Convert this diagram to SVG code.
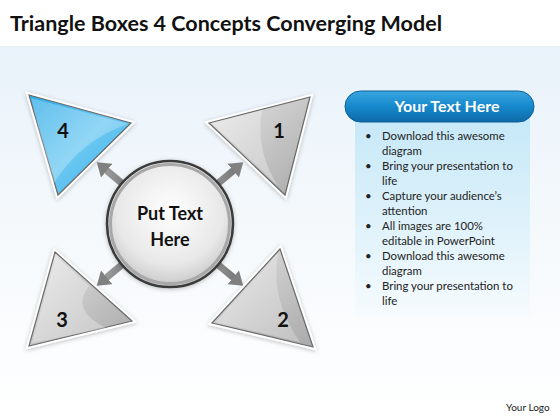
<svg xmlns="http://www.w3.org/2000/svg" width="560" height="420" viewBox="0 0 560 420">
<defs>
<style>
.title{font-family:Lato,"Liberation Sans",sans-serif;font-weight:bold;font-size:20px;fill:#111}
.num{font-family:Lato,"Liberation Sans",sans-serif;font-weight:bold;font-size:20px;fill:#111;text-anchor:middle}
.ctr{font-family:Lato,"Liberation Sans",sans-serif;font-weight:bold;font-size:18px;fill:#111;text-anchor:middle}
.hdr{font-family:Lato,"Liberation Sans",sans-serif;font-weight:bold;font-size:16px;fill:#fff;text-anchor:middle}
.bul{font-family:Lato,"Liberation Sans",sans-serif;font-size:11.4px;fill:#222}
.logo{font-family:Lato,"Liberation Sans",sans-serif;font-size:10px;fill:#222}
.tri{stroke:#6a6a6a;stroke-width:1.2;stroke-linejoin:miter}
.triw{fill:#fff;stroke:#fff;stroke-width:5;stroke-linejoin:miter}
.arr{stroke:url(#ga);stroke-width:7;fill:none;marker-end:url(#ah)}
</style>
<linearGradient id="bg" x1="0" y1="0" x2="0" y2="1">
<stop offset="0" stop-color="#e9f2fa"/><stop offset="0.5" stop-color="#f5f9fc"/><stop offset="1" stop-color="#ffffff"/>
</linearGradient>
<linearGradient id="gblue" x1="0" y1="0" x2="1" y2="1">
<stop offset="0" stop-color="#2aa9e6"/><stop offset="0.5" stop-color="#6cc8f2"/><stop offset="1" stop-color="#3cb2ea"/>
</linearGradient>
<linearGradient id="ggray" x1="0" y1="0" x2="1" y2="1">
<stop offset="0" stop-color="#e6e6e6"/><stop offset="0.55" stop-color="#c4c4c4"/><stop offset="1" stop-color="#a9a9a9"/>
</linearGradient>
<linearGradient id="ga" x1="0" y1="0" x2="1" y2="0">
<stop offset="0" stop-color="#9a9a9a"/><stop offset="1" stop-color="#7a7a7a"/>
</linearGradient>
<radialGradient id="gc" cx="0.5" cy="0.4" r="0.6">
<stop offset="0" stop-color="#ffffff"/><stop offset="0.7" stop-color="#e8e8e8"/><stop offset="1" stop-color="#c8c8c8"/>
</radialGradient>
<linearGradient id="gh" x1="0" y1="0" x2="0" y2="1">
<stop offset="0" stop-color="#3aa6e0"/><stop offset="0.5" stop-color="#1688cc"/><stop offset="1" stop-color="#0d6aa8"/>
</linearGradient>
<linearGradient id="gp" x1="0" y1="0" x2="0" y2="1">
<stop offset="0" stop-color="#c6e8f8"/><stop offset="0.6" stop-color="#e2f3fb"/><stop offset="1" stop-color="#f6fbfe"/>
</linearGradient>
<marker id="ah" markerUnits="userSpaceOnUse" markerWidth="16" markerHeight="18" refX="1" refY="9" orient="auto">
<path d="M0,0 L13,9 L0,18 z" fill="#808080"/>
</marker>
<filter id="sh" x="-20%" y="-20%" width="140%" height="140%">
<feDropShadow dx="0" dy="1" stdDeviation="2" flood-color="#000" flood-opacity="0.25"/>
</filter>
</defs>

<rect x="0" y="0" width="560" height="420" fill="#fff"/>
<rect x="0" y="46" width="560" height="374" fill="url(#bg)"/>

<text class="title" x="10" y="31" textLength="432" lengthAdjust="spacingAndGlyphs">Triangle Boxes 4 Concepts Converging Model</text>

<g id="connectors">
<line class="arr" x1="130" y1="190" x2="106" y2="170"/>
<line class="arr" x1="210" y1="190" x2="234" y2="170"/>
<line class="arr" x1="130" y1="258" x2="106" y2="278"/>
<line class="arr" x1="210" y1="258" x2="234" y2="278"/>
</g>

<g id="node4">
<polygon class="triw" points="29,95 131,123 58,195" filter="url(#sh)"/>
<polygon class="tri" points="29,95 131,123 58,195" fill="url(#gblue)"/>
<path d="M31,98 L128,124 Q80,140 52,186 Z" fill="#ffffff" opacity="0.25"/>
<text class="num" x="63" y="138">4</text>
</g>

<g id="node1">
<polygon class="triw" points="209,123 310,97 285,195" filter="url(#sh)"/>
<polygon class="tri" points="209,123 310,97 285,195" fill="url(#ggray)"/>
<path d="M212,123 L262,110 Q255,150 278,186 Z" fill="#ffffff" opacity="0.3"/>
<text class="num" x="279" y="138">1</text>
</g>

<g id="node3">
<polygon class="triw" points="55,252 132,321 29,346" filter="url(#sh)"/>
<polygon class="tri" points="55,252 132,321 29,346" fill="url(#ggray)"/>
<path d="M56,256 L89,286 Q70,310 106,328 L32,343 Z" fill="#ffffff" opacity="0.3"/>
<text class="num" x="62" y="327">3</text>
</g>

<g id="node2">
<polygon class="triw" points="280,249 313,347 212,323" filter="url(#sh)"/>
<polygon class="tri" points="280,249 313,347 212,323" fill="url(#ggray)"/>
<path d="M278,253 L216,322 L300,342 Q270,300 278,253 Z" fill="#ffffff" opacity="0.25"/>
<text class="num" x="283" y="327">2</text>
</g>

<g id="center">
<circle cx="170" cy="224" r="63" fill="url(#gc)" stroke="#3a3a3a" stroke-width="2.5" filter="url(#sh)"/>
<circle cx="170" cy="224" r="59.5" fill="none" stroke="#a8a8a8" stroke-width="3"/>
<text class="ctr" x="170" y="220">Put Text</text>
<text class="ctr" x="170" y="246">Here</text>
</g>

<g id="panel">
<rect x="355" y="118" width="175" height="198" fill="url(#gp)"/>
<rect x="345" y="91" width="189" height="31" rx="15.5" fill="url(#gh)" stroke="#0b5f98" stroke-width="1"/>
<text class="hdr" x="447" y="112">Your Text Here</text>
<g class="bul">
<text x="365" y="140">•</text><text x="382" y="140">Download this awesome</text>
<text x="382" y="155">diagram</text>
<text x="365" y="170">•</text><text x="382" y="170">Bring your presentation to</text>
<text x="382" y="185">life</text>
<text x="365" y="200">•</text><text x="382" y="200">Capture your audience’s</text>
<text x="382" y="215">attention</text>
<text x="365" y="230">•</text><text x="382" y="230">All images are 100%</text>
<text x="382" y="245">editable in PowerPoint</text>
<text x="365" y="260">•</text><text x="382" y="260">Download this awesome</text>
<text x="382" y="275">diagram</text>
<text x="365" y="290">•</text><text x="382" y="290">Bring your presentation to</text>
<text x="382" y="305">life</text>
</g>
</g>

<text class="logo" x="506" y="411">Your Logo</text>
</svg>
